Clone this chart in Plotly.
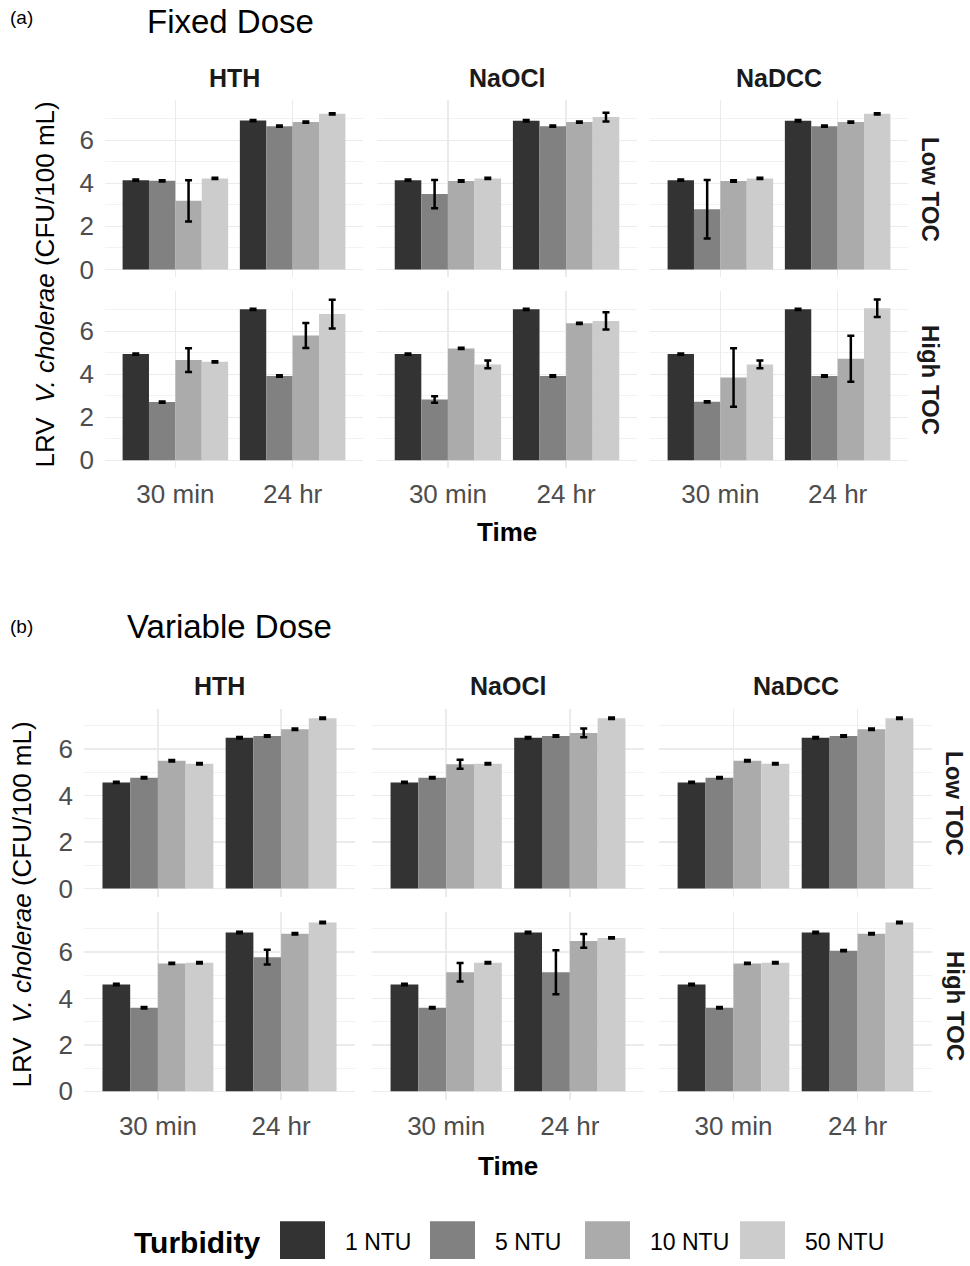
import plotly.graph_objects as go

W, H = 970, 1266

times = ["30 min", "24 hr"]
turbidity = ["1 NTU", "5 NTU", "10 NTU", "50 NTU"]
disinfectants = ["HTH", "NaOCl", "NaDCC"]
toc_levels = ["Low TOC", "High TOC"]
colors = ["#333333", "#818181", "#ABABAB", "#CCCCCC"]

# values: per turbidity -> [30 min, 24 hr]
fixed_low_HTH = [[4.15, 6.92], [4.12, 6.66], [3.19, 6.85], [4.23, 7.23]]
fixed_low_HTH_err = [[0.03, 0.03], [0.03, 0.03], [0.96, 0.03], [0.03, 0.03]]
fixed_low_NaOCl = [[4.15, 6.91], [3.50, 6.66], [4.11, 6.85], [4.23, 7.08]]
fixed_low_NaOCl_err = [[0.03, 0.03], [0.66, 0.03], [0.03, 0.03], [0.03, 0.20]]
fixed_low_NaDCC = [[4.15, 6.91], [2.80, 6.66], [4.11, 6.85], [4.23, 7.23]]
fixed_low_NaDCC_err = [[0.03, 0.03], [1.36, 0.03], [0.03, 0.03], [0.03, 0.03]]

fixed_high_HTH = [[4.94, 7.02], [2.71, 3.92], [4.66, 5.80], [4.58, 6.80]]
fixed_high_HTH_err = [[0.03, 0.03], [0.03, 0.03], [0.55, 0.58], [0.03, 0.67]]
fixed_high_NaOCl = [[4.94, 7.02], [2.83, 3.92], [5.20, 6.37], [4.46, 6.48]]
fixed_high_NaOCl_err = [[0.03, 0.03], [0.15, 0.03], [0.03, 0.03], [0.18, 0.40]]
fixed_high_NaDCC = [[4.94, 7.02], [2.72, 3.92], [3.85, 4.72], [4.46, 7.07]]
fixed_high_NaDCC_err = [[0.03, 0.03], [0.03, 0.03], [1.36, 1.07], [0.18, 0.41]]

var_low_HTH = [[4.57, 6.49], [4.77, 6.57], [5.50, 6.86], [5.37, 7.33]]
var_low_HTH_err = [[0.03, 0.03], [0.03, 0.03], [0.03, 0.03], [0.03, 0.03]]
var_low_NaOCl = [[4.57, 6.49], [4.77, 6.57], [5.35, 6.70], [5.37, 7.33]]
var_low_NaOCl_err = [[0.03, 0.03], [0.03, 0.03], [0.19, 0.19], [0.03, 0.03]]
var_low_NaDCC = [[4.57, 6.49], [4.77, 6.57], [5.50, 6.86], [5.37, 7.33]]
var_low_NaDCC_err = [[0.03, 0.03], [0.03, 0.03], [0.03, 0.03], [0.03, 0.03]]

var_high_HTH = [[4.60, 6.84], [3.60, 5.78], [5.51, 6.79], [5.54, 7.27]]
var_high_HTH_err = [[0.03, 0.03], [0.03, 0.32], [0.03, 0.03], [0.03, 0.03]]
var_high_NaOCl = [[4.60, 6.84], [3.60, 5.13], [5.13, 6.48], [5.54, 6.61]]
var_high_NaOCl_err = [[0.03, 0.03], [0.03, 0.95], [0.40, 0.30], [0.03, 0.03]]
var_high_NaDCC = [[4.60, 6.84], [3.60, 6.06], [5.51, 6.79], [5.54, 7.27]]
var_high_NaDCC_err = [[0.03, 0.03], [0.03, 0.03], [0.03, 0.03], [0.03, 0.03]]

panels = {
    "fixed": {
        ("Low TOC", "HTH"): (fixed_low_HTH, fixed_low_HTH_err),
        ("Low TOC", "NaOCl"): (fixed_low_NaOCl, fixed_low_NaOCl_err),
        ("Low TOC", "NaDCC"): (fixed_low_NaDCC, fixed_low_NaDCC_err),
        ("High TOC", "HTH"): (fixed_high_HTH, fixed_high_HTH_err),
        ("High TOC", "NaOCl"): (fixed_high_NaOCl, fixed_high_NaOCl_err),
        ("High TOC", "NaDCC"): (fixed_high_NaDCC, fixed_high_NaDCC_err),
    },
    "variable": {
        ("Low TOC", "HTH"): (var_low_HTH, var_low_HTH_err),
        ("Low TOC", "NaOCl"): (var_low_NaOCl, var_low_NaOCl_err),
        ("Low TOC", "NaDCC"): (var_low_NaDCC, var_low_NaDCC_err),
        ("High TOC", "HTH"): (var_high_HTH, var_high_HTH_err),
        ("High TOC", "NaOCl"): (var_high_NaOCl, var_high_NaOCl_err),
        ("High TOC", "NaDCC"): (var_high_NaDCC, var_high_NaDCC_err),
    },
}

# layout geometry in window pixels
geom = {
    "fixed": {
        "rows": [(101, 279), (293, 471)],
        "cols": [(105, 363), (377, 637), (650, 908)],
        "strip_y": 78, "rstrip_x": 930, "xtitle_y": 535, "ytitle_x": 45,
        "label": "(a)", "label_y": 18, "title": "Fixed Dose", "title_x": 145, "title_y": 22,
    },
    "variable": {
        "rows": [(713, 902), (917, 1106)],
        "cols": [(84, 355), (372, 644), (659, 932)],
        "strip_y": 690, "rstrip_x": 955, "xtitle_y": 1172, "ytitle_x": 22,
        "label": "(b)", "label_y": 630, "title": "Variable Dose", "title_x": 125, "title_y": 630,
    },
}

FONT = "Liberation Sans, Arial, Helvetica, sans-serif"
fig = go.Figure()
layout = {}
annotations = []
shapes = []


def px(p):
    return p / W


def py(p):
    return 1 - p / H


n = 0
for dose in ["fixed", "variable"]:
    g = geom[dose]
    data = panels[dose]
    M = max(v + e for key in data for vals, errs in [data[key]]
            for vr, er in zip(vals, errs) for v, e in zip(vr, er))
    yr = [-0.05 * M, 1.05 * M]
    for ri, toc in enumerate(toc_levels):
        top, bot = g["rows"][ri]
        for ci, dis in enumerate(disinfectants):
            left, right = g["cols"][ci]
            n += 1
            xa = "xaxis" if n == 1 else f"xaxis{n}"
            ya = "yaxis" if n == 1 else f"yaxis{n}"
            xr = "x" if n == 1 else f"x{n}"
            yref = "y" if n == 1 else f"y{n}"
            vals, errs = data[(toc, dis)]
            for ti, turb in enumerate(turbidity):
                fig.add_trace(go.Bar(
                    x=times, y=vals[ti], name=turb,
                    marker=dict(color=colors[ti], line=dict(width=0)),
                    error_y=dict(type="data", array=errs[ti], color="black", thickness=2.5, width=3.5),
                    xaxis=xr, yaxis=yref, showlegend=False, offsetgroup=str(ti),
                ))
            layout[xa] = dict(
                domain=[px(left), px(right)], anchor=yref, type="category",
                range=[-0.6, 1.6], showgrid=True, gridcolor="#EBEBEB", gridwidth=1.5,
                showline=False, zeroline=False, ticks="",
                showticklabels=(ri == 1),
                tickfont=dict(family=FONT, size=26, color="#4D4D4D"),
                ticklabelstandoff=8, fixedrange=True,
            )
            layout[ya] = dict(
                domain=[py(bot), py(top)], anchor=xr, range=yr,
                tick0=0, dtick=2, showgrid=True, gridcolor="#EBEBEB", gridwidth=1.5,
                minor=dict(dtick=1, tick0=0, showgrid=True, gridcolor="#F2F2F2", gridwidth=1),
                zeroline=False, showline=False, ticks="",
                showticklabels=(ci == 0),
                tickfont=dict(family=FONT, size=26, color="#4D4D4D"),
                ticklabelstandoff=10, fixedrange=True,
            )
            if ri == 0:
                annotations.append(dict(
                    x=px((left + right) / 2), y=py(g["strip_y"]), xref="paper", yref="paper",
                    text=f"<b>{dis}</b>", showarrow=False, xanchor="center", yanchor="middle",
                    font=dict(family=FONT, size=25, color="#1A1A1A")))
        annotations.append(dict(
            x=px(g["rstrip_x"]), y=py((top + bot) / 2), xref="paper", yref="paper",
            text=f"<b>{toc}</b>", showarrow=False, textangle=90, xanchor="center", yanchor="middle",
            font=dict(family=FONT, size=24, color="#1A1A1A")))
    cl = g["cols"][0][0]
    cr = g["cols"][2][1]
    annotations.append(dict(
        x=px((cl + cr) / 2), y=py(g["xtitle_y"]), xref="paper", yref="paper",
        text="<b>Time</b>", showarrow=False, xanchor="center", yanchor="middle",
        font=dict(family=FONT, size=26, color="black")))
    annotations.append(dict(
        x=px(g["ytitle_x"]), y=py((g["rows"][0][0] + g["rows"][1][1]) / 2), xref="paper", yref="paper",
        text="LRV  <i>V. cholerae</i> (CFU/100 mL)", showarrow=False, textangle=-90,
        xanchor="center", yanchor="middle", font=dict(family=FONT, size=26, color="black")))
    annotations.append(dict(
        x=px(8), y=py(g["label_y"]), xref="paper", yref="paper", text=g["label"],
        showarrow=False, xanchor="left", yanchor="middle",
        font=dict(family=FONT, size=19, color="black")))
    annotations.append(dict(
        x=px(g["title_x"]), y=py(g["title_y"]), xref="paper", yref="paper", text=g["title"],
        showarrow=False, xanchor="left", yanchor="middle",
        font=dict(family=FONT, size=33, color="black")))

# legend (keys drawn as shapes)
annotations.append(dict(
    x=px(132), y=py(1249), xref="paper", yref="paper", text="<b>Turbidity</b>",
    showarrow=False, xanchor="left", yanchor="middle",
    font=dict(family=FONT, size=30, color="black")))
key_x = [280, 430, 585, 740]
for ti, turb in enumerate(turbidity):
    shapes.append(dict(type="rect", xref="paper", yref="paper",
                       x0=px(key_x[ti]), x1=px(key_x[ti] + 45),
                       y0=py(1266), y1=py(1228), fillcolor=colors[ti], line=dict(width=0)))
    annotations.append(dict(
        x=px(key_x[ti] + 63), y=py(1249), xref="paper", yref="paper", text=turb,
        showarrow=False, xanchor="left", yanchor="middle",
        font=dict(family=FONT, size=23, color="black")))

fig.update_layout(
    width=W, height=H, margin=dict(l=0, r=0, t=0, b=0),
    paper_bgcolor="white", plot_bgcolor="white",
    barmode="group", bargap=0.1, bargroupgap=0,
    showlegend=False, annotations=annotations, shapes=shapes,
    font=dict(family=FONT),
    **layout,
)

fig.write_html(
    "out.html",
    config={"displayModeBar": False, "staticPlot": True},
    post_script="document.body.style.margin='0';document.body.style.overflow='hidden';",
)
